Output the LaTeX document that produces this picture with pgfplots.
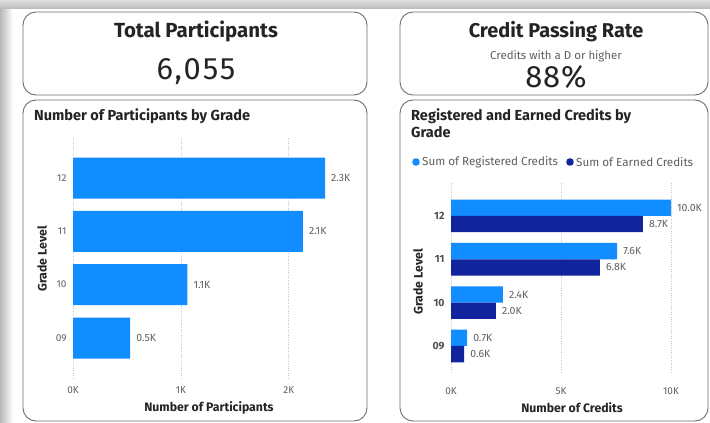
\documentclass[border=0pt]{standalone}
\usepackage{pgfplots}
\pgfplotsset{compat=1.18}
\usepackage{pgfplotstable}
\usepackage{fontspec}
\setmainfont{Fira Sans}
\definecolor{pbilight}{HTML}{118DFF}
\definecolor{pbidark}{HTML}{12239E}
\definecolor{lbl}{HTML}{605E5C}
\definecolor{ttl}{HTML}{252423}
\definecolor{cardframe}{HTML}{6E6E6E}

\pgfplotstableread{
c v lab
0 530 0.5K
1 1060 1.1K
2 2130 2.1K
3 2335 2.3K
}\partdata

\pgfplotstableread{
c reg regl earn earnl
0 730 0.7K 600 0.6K
1 2360 2.4K 2040 2.0K
2 7550 7.6K 6770 6.8K
3 10000 10.0K 8720 8.7K
}\creddata

\begin{document}
\begin{tikzpicture}[x=1bp,y=1bp]
\useasboundingbox (0,0) rectangle (710,422);
\fill[white] (0,0) rectangle (710,422);
\shade[left color=gray!55, right color=white] (0,0) rectangle (13,422);
\shade[top color=gray!25, bottom color=gray!55] (0,413) rectangle (710,422);

% cards
\draw[cardframe, line width=0.9bp, rounded corners=13bp] (23,327) rectangle (367,410);
\draw[cardframe, line width=0.9bp, rounded corners=13bp] (400,327) rectangle (708,410);
\draw[cardframe, line width=0.9bp, rounded corners=13bp] (23,1) rectangle (367,322);
\draw[cardframe, line width=0.9bp, rounded corners=13bp] (400,1) rectangle (708,322);

% card texts
\node[font=\fontsize{20.5}{22}\selectfont\bfseries, text=ttl] at (196,391) {Total Participants};
\node[font=\fontsize{31}{34}\selectfont\addfontfeature{LetterSpace=6}, text=ttl] at (196,350) {6,055};
\node[font=\fontsize{20}{22}\selectfont\bfseries, text=ttl] at (556,390) {Credit Passing Rate};
\node[font=\fontsize{11.5}{13}\selectfont, text=lbl] at (556,366) {Credits with a D or higher};
\node[font=\fontsize{31}{34}\selectfont\addfontfeature{LetterSpace=3}, text=ttl] at (556,345) {88\%};

% chart titles
\node[anchor=west, inner sep=0pt, font=\fontsize{14.6}{16}\selectfont\bfseries, text=ttl] at (34,306) {Number of Participants by Grade};
\node[anchor=west, inner sep=0pt, font=\fontsize{14.6}{16}\selectfont\bfseries, text=ttl] at (411,306) {Registered and Earned Credits by};
\node[anchor=west, inner sep=0pt, font=\fontsize{14.6}{16}\selectfont\bfseries, text=ttl] at (411,290) {Grade};

% legend
\fill[pbilight] (416,260) circle (3.8);
\node[anchor=west, inner sep=0pt, font=\fontsize{11.7}{13}\selectfont, text=lbl] at (422,260) {Sum of Registered Credits};
\fill[pbidark] (570,260) circle (3.8);
\node[anchor=west, inner sep=0pt, font=\fontsize{11.7}{13}\selectfont, text=lbl] at (576,260) {Sum of Earned Credits};

% axis titles
\node[font=\fontsize{12.3}{14}\selectfont\bfseries, text=ttl] at (209,14) {Number of Participants};
\node[font=\fontsize{12.3}{14}\selectfont\bfseries, text=ttl, rotate=90] at (42,163) {Grade Level};
\node[font=\fontsize{12.3}{14}\selectfont\bfseries, text=ttl] at (572,14) {Number of Credits};
\node[font=\fontsize{12.3}{14}\selectfont\bfseries, text=ttl, rotate=90] at (418,140) {Grade Level};

\begin{axis}[
  at={(73bp,44bp)}, anchor=south west,
  scale only axis, width=252bp, height=240bp,
  xbar, bar width=41bp,
  xmin=0, xmax=2335, ymin=-0.75, ymax=3.75,
  axis line style={draw=none},
  major tick length=0pt,
  scaled x ticks=false,
  xtick={0,1000,2000}, xticklabels={0K,1K,2K},
  ytick={0,1,2,3}, yticklabels={09,10,11,12},
  xmajorgrids, grid style={dotted, gray!45, line width=0.8bp},
  tick label style={font=\fontsize{10}{11}\selectfont, text=lbl},
  xticklabel style={yshift=-5bp},
  yticklabel style={xshift=-3bp},
  clip=false,
  point meta=explicit symbolic,
  nodes near coords,
  nodes near coords style={font=\fontsize{10.5}{11}\selectfont, text=lbl, anchor=west, inner sep=0pt, xshift=6bp},
]
\addplot[fill=pbilight, draw=none] table[x=v, y=c, meta=lab] {\partdata};
\end{axis}

\begin{axis}[
  at={(451bp,50bp)}, anchor=south west,
  scale only axis, width=220bp, height=189bp,
  xbar, bar width=16.3bp,
  xmin=0, xmax=10000, ymin=-0.6, ymax=3.76,
  axis line style={draw=none},
  major tick length=0pt,
  scaled x ticks=false,
  xtick={0,5000,10000}, xticklabels={0K,5K,10K},
  ytick={0,1,2,3}, yticklabels={09,10,11,12},
  xmajorgrids, grid style={dotted, gray!45, line width=0.8bp},
  tick label style={font=\fontsize{10}{11}\selectfont, text=lbl},
  xticklabel style={yshift=-12bp},
  yticklabel style={xshift=-3bp, font=\fontsize{10.5}{11}\selectfont\bfseries, text=ttl!80},
  clip=false,
  point meta=explicit symbolic,
  nodes near coords,
  nodes near coords style={font=\fontsize{10.5}{11}\selectfont, text=lbl, anchor=west, inner sep=0pt, xshift=6bp},
]
\addplot[fill=pbilight, draw=none, bar shift=8.15bp] table[x=reg, y=c, meta=regl] {\creddata};
\addplot[fill=pbidark, draw=none, bar shift=-8.15bp] table[x=earn, y=c, meta=earnl] {\creddata};
\end{axis}
\end{tikzpicture}
\end{document}
